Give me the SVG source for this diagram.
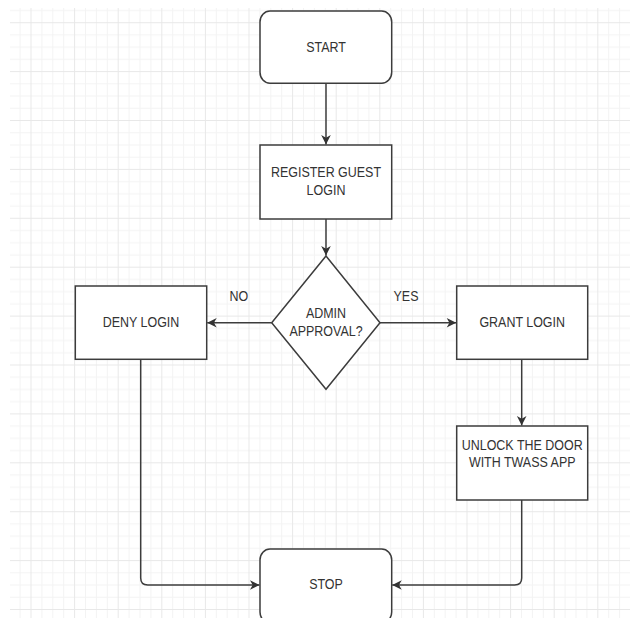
<svg xmlns="http://www.w3.org/2000/svg" width="630" height="618" viewBox="0 0 630 618">
  <defs>
    <pattern id="grid" patternUnits="userSpaceOnUse" x="30.5" y="22.2" width="43.6" height="48.9">
      <g stroke="#f3f3f3" stroke-width="1">
        <line x1="11.4" y1="0" x2="11.4" y2="48.9"/>
        <line x1="22.3" y1="0" x2="22.3" y2="48.9"/>
        <line x1="33.2" y1="0" x2="33.2" y2="48.9"/>
        <line x1="0" y1="12.7" x2="43.6" y2="12.7"/>
        <line x1="0" y1="24.95" x2="43.6" y2="24.95"/>
        <line x1="0" y1="37.2" x2="43.6" y2="37.2"/>
      </g>
      <rect x="0" y="0" width="1" height="48.9" fill="#e8e8e8"/>
      <rect x="0" y="0" width="43.6" height="1" fill="#e8e8e8"/>
    </pattern>
    <marker id="arrow" markerUnits="userSpaceOnUse" viewBox="-10 -6 11 12" refX="0" refY="0" markerWidth="11" markerHeight="12" orient="auto">
      <path d="M0,0 L-9.5,-4.8 L-6.8,0 L-9.5,4.8 Z" fill="#333333"/>
    </marker>
    <style>
      .node { fill: #ffffff; stroke: #3c3c3c; stroke-width: 1.5; }
      .edge { fill: none; stroke: #3c3c3c; stroke-width: 1.5; }
      .label { font-family: "Liberation Sans", Arial, sans-serif; font-size: 14px; fill: #333333; text-anchor: middle; }
    </style>
  </defs>

  <!-- page and grid -->
  <rect x="0" y="0" width="630" height="618" fill="#ffffff"/>
  <rect x="10" y="8" width="620" height="610" fill="url(#grid)"/>

  <!-- connectors -->
  <g id="connectors">
    <path class="edge" d="M326,83.3 V144.5" marker-end="url(#arrow)"/>
    <path class="edge" d="M326,219 V255.5" marker-end="url(#arrow)"/>
    <path class="edge" d="M271.7,322.7 H207.2" marker-end="url(#arrow)"/>
    <path class="edge" d="M380,322.7 H456.2" marker-end="url(#arrow)"/>
    <path class="edge" d="M521.7,359.3 V425.5" marker-end="url(#arrow)"/>
    <path class="edge" d="M521.7,500 V578 Q521.7,585 514.7,585 H392.2" marker-end="url(#arrow)"/>
    <path class="edge" d="M140.7,359.3 V578 Q140.7,585 147.7,585 H259.5" marker-end="url(#arrow)"/>
    <text class="label" transform="translate(238.8,300.5) scale(0.89,1)">NO</text>
    <text class="label" transform="translate(406,300.5) scale(0.89,1)">YES</text>
  </g>

  <g id="start">
    <rect class="node" x="260" y="11" width="131.7" height="72.3" rx="10" ry="11"/>
    <text class="label" transform="translate(326,51.5) scale(0.89,1)">START</text>
  </g>

  <g id="register">
    <rect class="node" x="260" y="145" width="131.7" height="74"/>
    <text class="label" transform="translate(326,177.3) scale(0.89,1)">REGISTER GUEST</text>
    <text class="label" transform="translate(326,195) scale(0.89,1)">LOGIN</text>
  </g>

  <g id="approval">
    <polygon class="node" points="326,256 380,322.7 326,389.3 271.7,322.7"/>
    <text class="label" transform="translate(326,318.3) scale(0.89,1)">ADMIN</text>
    <text class="label" transform="translate(326,336) scale(0.89,1)">APPROVAL?</text>
  </g>

  <g id="deny">
    <rect class="node" x="75.3" y="286" width="131.4" height="73.3"/>
    <text class="label" transform="translate(141,327) scale(0.89,1)">DENY LOGIN</text>
  </g>

  <g id="grant">
    <rect class="node" x="456.7" y="286" width="131" height="73.3"/>
    <text class="label" transform="translate(522.2,327) scale(0.89,1)">GRANT LOGIN</text>
  </g>

  <g id="unlock">
    <rect class="node" x="456.7" y="426" width="131" height="74"/>
    <text class="label" transform="translate(522.2,450) scale(0.89,1)">UNLOCK THE DOOR</text>
    <text class="label" transform="translate(522.2,467.3) scale(0.89,1)">WITH TWASS APP</text>
  </g>

  <g id="stop">
    <rect class="node" x="260" y="549" width="131.7" height="74" rx="10" ry="11"/>
    <text class="label" transform="translate(326,589) scale(0.89,1)">STOP</text>
  </g>
</svg>
